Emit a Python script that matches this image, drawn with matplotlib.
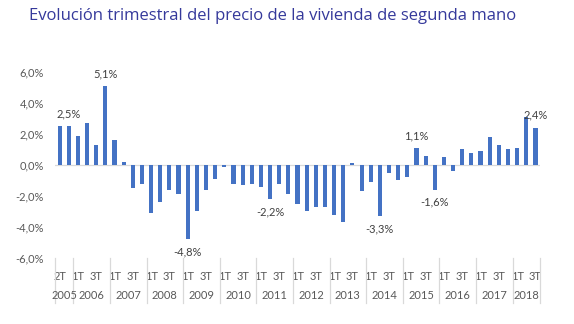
import numpy as np
import matplotlib
matplotlib.use("Agg")
import matplotlib.pyplot as plt
from matplotlib.ticker import FuncFormatter

# data: quarterly change in second-hand housing price (%)
years = ["2005", "2006", "2007", "2008", "2009", "2010", "2011", "2012",
         "2013", "2014", "2015", "2016", "2017", "2018"]
quarters_per_year = [2, 4, 4, 4, 4, 4, 4, 4, 4, 4, 4, 4, 4, 3]
quarter_labels = (["2T", "3T"] + ["1T", "2T", "3T", "4T"] * 12 + ["1T", "2T", "3T"])
values = [2.5, 2.5, 1.9, 2.7, 1.3, 5.1, 1.6, 0.2,
          -1.5, -1.2, -3.1, -2.4, -1.6, -1.9, -4.8, -3.0,
          -1.6, -0.9, -0.1, -1.2, -1.3, -1.2, -1.4, -2.2,
          -1.2, -1.9, -2.5, -3.0, -2.7, -2.7, -3.2, -3.7,
          0.1, -1.7, -1.1, -3.3, -0.5, -1.0, -0.8, 1.1,
          0.6, -1.6, 0.5, -0.4, 1.0, 0.8, 0.9, 1.8,
          1.3, 1.0, 1.1, 3.1, 2.4]
labelled = [1, 5, 14, 23, 35, 39, 41, 52]

bar_color = "#4472C4"
text_gray = "#595959"

plt.rcParams['font.family'] = ['Lato', 'DejaVu Sans']

fig = plt.figure(figsize=(5.74, 3.24), dpi=100)
ax = fig.add_axes([0.0958, 0.2037, 0.845, 0.5741])

x = np.arange(len(values))
ax.bar(x, values, width=0.45, color=bar_color, zorder=2)
ax.axhline(0, color="#d9d9d9", lw=0.9, zorder=1)

ax.set_xlim(-0.5, len(values) - 0.5)
ax.set_ylim(-6, 6)
ax.set_yticks(np.arange(-6, 7, 2))
ax.yaxis.set_major_formatter(FuncFormatter(lambda v, p: f"{v:.1f}%".replace(".", ",")))
ax.tick_params(axis="y", length=0, labelsize=8, labelcolor=text_gray, pad=8)

ax.set_xticks(x[::2])
ax.set_xticklabels(quarter_labels[::2])
ax.tick_params(axis="x", length=0, labelsize=8, labelcolor=text_gray, pad=9)

for s in ax.spines.values():
    s.set_visible(False)

# year groups with separators
trans = ax.get_xaxis_transform()
edges = np.concatenate([[0], np.cumsum(quarters_per_year)]) - 0.5
for e in edges:
    ax.plot([e, e], [0, -0.242], color="#d9d9d9", lw=0.9, transform=trans, clip_on=False)
for i, yr in enumerate(years):
    ax.text((edges[i] + edges[i + 1]) / 2, -0.199, yr, transform=trans,
            ha="center", va="center", fontsize=8, color=text_gray)

# data labels
for i in labelled:
    v = values[i]
    txt = f"{v:.1f}%".replace(".", ",")
    off = 5 if v > 0 else -5
    ax.annotate(txt, (x[i], v), xytext=(0, off), textcoords="offset points",
                ha="center", va="bottom" if v > 0 else "top", fontsize=8, color="#404040")

fig.text(0.475, 0.95, "Evolución trimestral del precio de la vivienda de segunda mano",
         ha="center", va="center", fontsize=12, color="#35399B", family="Open Sans")

fig.savefig("out.png", dpi=100, facecolor="white")
